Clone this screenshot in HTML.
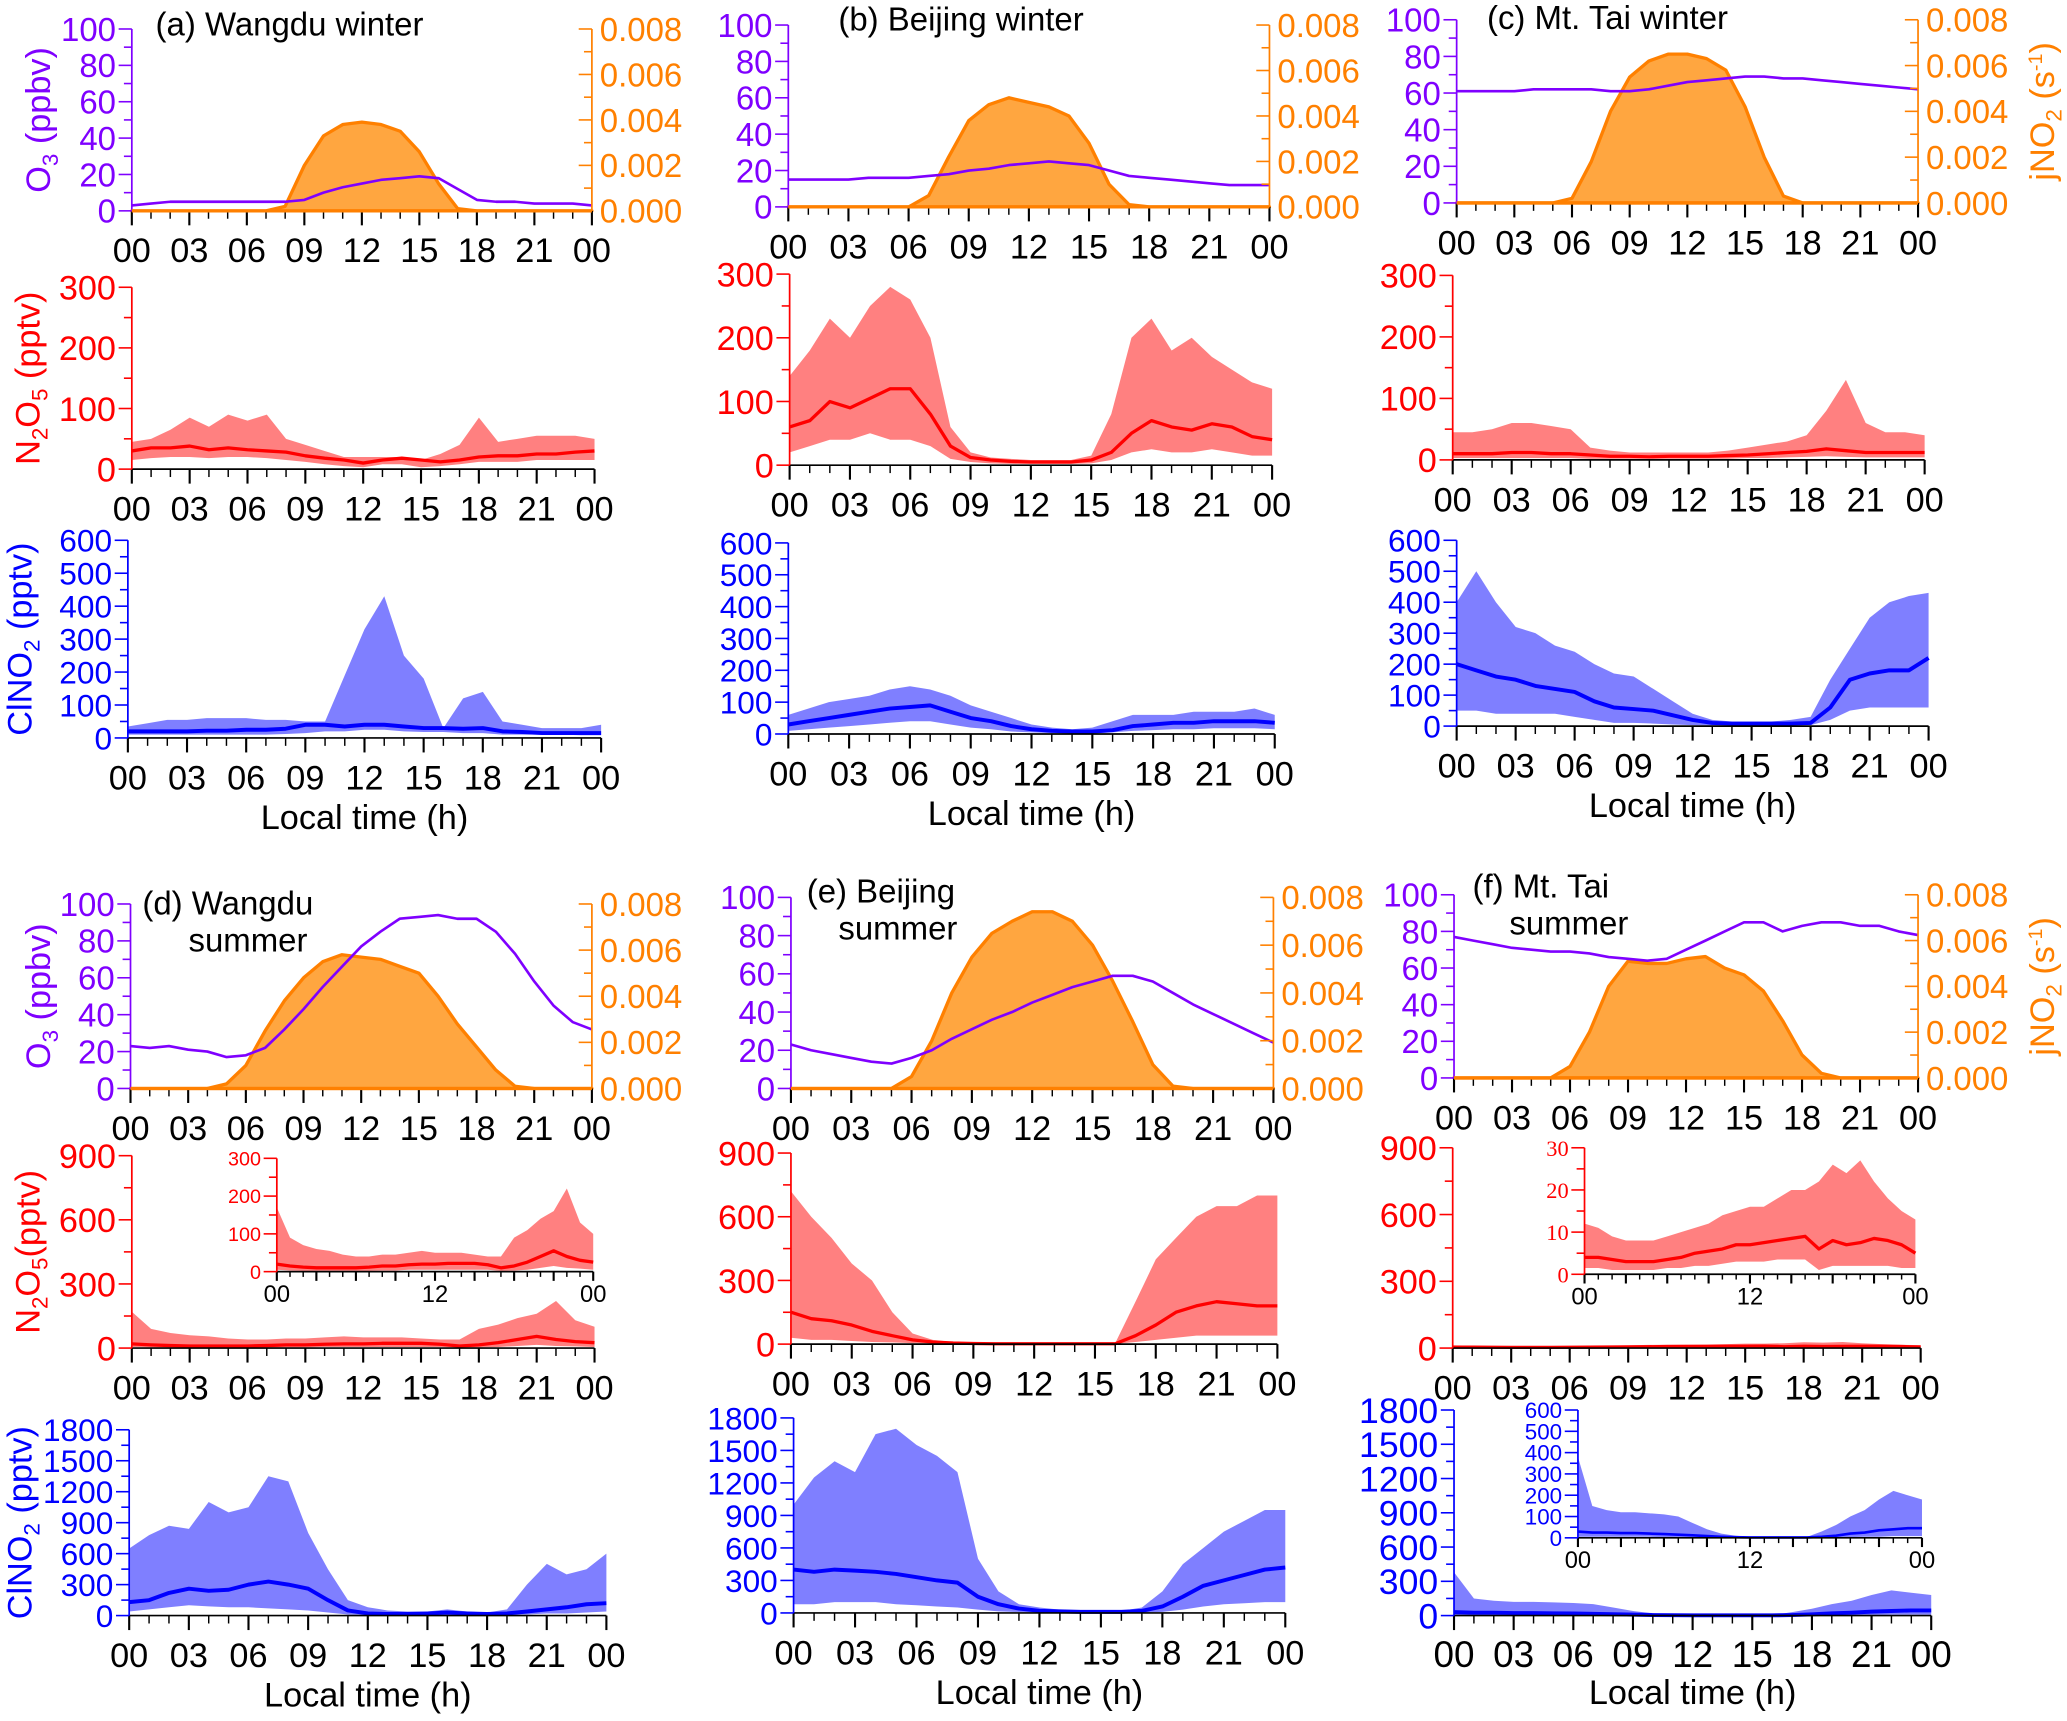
<!DOCTYPE html>
<html><head><meta charset="utf-8"><title>Diurnal profiles</title>
<style>
html,body{margin:0;padding:0;background:#fff;}
svg{display:block;font-family:"Liberation Sans",Arial,sans-serif;}
</style></head>
<body>
<svg id="fig" width="2067" height="1721" viewBox="0 0 1568 1306" preserveAspectRatio="none" xmlns="http://www.w3.org/2000/svg"></svg>
<script>
// ---------- DATA (hourly, 00..24 local time) ----------
const hours = [0,1,2,3,4,5,6,7,8,9,10,11,12,13,14,15,16,17,18,19,20,21,22,23,24];
const xTickLabels = ["00","03","06","09","12","15","18","21","00"];
const insetTickLabels = ["00","12","00"];

// (a) Wangdu winter
const a_o3 = [3,4,5,5,5,5,5,5,5,6,10,13,15,17,18,19,18,12,6,5,5,4,4,4,3];
const a_j = [0,0,0,0,0,0,0,0,0.2,2.0,3.3,3.8,3.9,3.8,3.5,2.6,1.2,0.1,0,0,0,0,0,0,0];
const a_n2o5_mean = [30,35,35,38,32,35,32,30,28,22,18,15,10,15,18,15,12,15,20,22,22,25,25,28,30];
const a_n2o5_hi = [45,50,65,85,70,90,80,90,50,40,30,20,20,20,20,15,25,40,85,45,50,55,55,55,50];
const a_n2o5_lo = [15,18,20,20,18,20,20,18,15,12,8,5,3,8,8,3,5,8,12,12,12,15,15,15,15];
const a_clno2_mean = [20,20,20,20,22,22,25,25,28,40,40,35,40,40,35,30,30,28,30,20,18,15,15,15,15];
const a_clno2_hi = [35,45,55,55,60,60,60,55,55,50,50,190,330,430,250,180,30,120,140,50,40,30,30,30,40];
const a_clno2_lo = [10,10,10,10,10,10,10,10,12,15,20,20,25,25,20,18,18,15,15,10,10,10,10,8,8];

// (b) Beijing winter
const b_o3 = [15,15,15,15,16,16,16,17,18,20,21,23,24,25,24,23,20,17,16,15,14,13,12,12,12];
const b_j = [0,0,0,0,0,0,0,0.5,2.2,3.8,4.5,4.8,4.6,4.4,4.0,2.8,1.0,0.1,0,0,0,0,0,0,0];
const b_n2o5_mean = [60,70,100,90,105,120,120,80,30,12,8,6,5,5,5,8,20,50,70,60,55,65,60,45,40];
const b_n2o5_hi = [140,180,230,200,250,280,260,200,60,20,12,10,8,8,8,15,80,200,230,180,200,170,150,130,120];
const b_n2o5_lo = [20,30,40,40,50,40,40,30,10,5,3,2,2,2,2,3,8,20,25,20,20,25,20,15,15];
const b_clno2_mean = [30,40,50,60,70,80,85,90,70,50,40,25,15,10,8,8,12,25,30,35,35,40,40,40,35];
const b_clno2_hi = [60,80,100,110,120,140,150,140,120,90,70,50,30,20,15,20,40,60,60,60,70,70,70,80,60];
const b_clno2_lo = [10,15,20,25,30,35,40,40,30,20,15,8,5,3,2,2,5,10,12,15,15,18,18,18,15];

// (c) Mt. Tai winter
const c_o3 = [61,61,61,61,62,62,62,62,61,61,62,64,66,67,68,69,69,68,68,67,66,65,64,63,62];
const c_j = [0,0,0,0,0,0,0.2,1.8,4.0,5.5,6.2,6.5,6.5,6.3,5.8,4.2,2.0,0.3,0,0,0,0,0,0,0];
const c_n2o5_mean = [10,10,10,12,12,10,10,8,6,6,5,6,6,6,7,8,10,12,14,18,15,12,12,12,12];
const c_n2o5_hi = [45,45,50,60,60,55,50,20,15,12,12,12,12,12,15,20,25,30,40,80,130,60,45,45,40];
const c_n2o5_lo = [3,3,3,3,3,3,3,2,2,2,2,2,2,2,2,3,3,4,5,6,5,4,4,4,4];
const c_clno2_mean = [200,180,160,150,130,120,110,80,60,55,50,35,20,10,8,8,8,8,10,60,150,170,180,180,220];
const c_clno2_hi = [400,500,400,320,300,260,240,200,170,160,120,80,40,20,15,15,15,20,30,150,250,350,400,420,430];
const c_clno2_lo = [50,50,40,40,40,40,30,20,10,10,8,5,3,2,2,2,2,2,3,20,50,60,60,60,60];

// (d) Wangdu summer
const d_o3 = [23,22,23,21,20,17,18,22,32,43,55,66,77,85,92,93,94,92,92,85,73,58,45,36,32];
const d_j = [0,0,0,0,0,0.2,1.0,2.5,3.8,4.8,5.5,5.8,5.7,5.6,5.3,5.0,4.0,2.8,1.8,0.8,0.1,0,0,0,0];
const d_n2o5_mean = [20,15,12,10,10,10,10,12,15,15,18,20,20,22,22,22,18,10,15,25,40,55,40,30,25];
const d_n2o5_hi = [170,90,70,60,55,45,40,40,45,45,50,55,50,50,50,45,40,40,90,110,140,160,220,130,100];
const d_n2o5_lo = [5,3,2,2,2,2,2,2,3,3,5,5,5,5,5,5,5,2,3,5,10,15,10,8,5];
const d_clno2_mean = [130,150,220,260,240,250,300,330,300,260,150,50,20,15,15,20,30,20,15,20,40,60,80,110,120];
const d_clno2_hi = [650,780,870,840,1100,1000,1050,1350,1300,800,450,150,80,50,40,40,60,40,30,60,300,500,400,450,600];
const d_clno2_lo = [40,60,80,100,90,80,80,70,60,50,30,10,5,3,3,3,5,3,3,5,10,20,20,30,40];

// (e) Beijing summer
const e_o3 = [23,20,18,16,14,13,16,20,26,31,36,40,45,49,53,56,59,59,56,50,44,39,34,29,24];
const e_j = [0,0,0,0,0,0,0.5,2.0,4.0,5.5,6.5,7.0,7.4,7.4,7.0,6.0,4.5,2.8,1.0,0.1,0,0,0,0,0];
const e_n2o5_mean = [150,120,110,90,60,40,20,10,5,3,2,2,2,2,2,2,2,40,90,150,180,200,190,180,180];
const e_n2o5_hi = [720,600,500,380,300,150,50,20,10,5,5,5,5,5,5,5,5,200,400,500,600,650,650,700,700];
const e_n2o5_lo = [30,20,20,15,10,8,5,3,2,1,1,1,1,1,1,1,1,10,20,30,40,40,40,40,40];
const e_clno2_mean = [400,380,400,390,380,360,330,300,280,150,80,40,20,15,10,10,10,20,60,150,250,300,350,400,420];
const e_clno2_hi = [1000,1250,1400,1300,1650,1700,1550,1450,1300,500,200,80,50,30,20,20,20,50,200,450,600,750,850,950,950];
const e_clno2_lo = [80,80,100,100,100,80,70,60,50,30,15,8,5,3,3,3,3,5,10,30,60,80,90,100,100];

// (f) Mt. Tai summer
const f_o3 = [77,75,73,71,70,69,69,68,66,65,64,65,70,75,80,85,85,80,83,85,85,83,83,80,78];
const f_j = [0,0,0,0,0,0,0.5,2.0,4.0,5.1,5.0,5.0,5.2,5.3,4.8,4.5,3.8,2.5,1.0,0.2,0,0,0,0,0];
const f_n2o5_mean = [4,4,3.5,3,3,3,3.5,4,5,5.5,6,7,7,7.5,8,8.5,9,6,8,7,7.5,8.5,8,7,5];
const f_n2o5_hi = [12,11,9,8,8,8,9,10,11,12,14,15,16,16,18,20,20,22,26,24,27,22,18,15,13];
const f_n2o5_lo = [1.5,1.5,1,1,1,1,1.5,1.5,2,2,2.5,3,3,3,3.5,3.5,3.5,1,2,2,2,2,2,1.5,1.5];
const f_clno2_mean = [30,25,25,22,22,20,18,15,12,8,5,3,2,2,2,2,2,5,10,20,25,35,40,45,45];
const f_clno2_hi = [380,150,130,120,120,115,110,100,70,40,20,10,5,3,3,3,5,30,60,100,130,180,220,200,180];
const f_clno2_lo = [5,5,5,5,5,5,3,3,2,1,1,0,0,0,0,0,0,1,2,3,5,5,8,8,8];

// ---------- LAYOUT ----------
const C = {o3:"#7f00ff", j:"#ff8000", jfill:"#ffa640", red:"#ff0000", redfill:"#ff8080", blue:"#0000ff", bluefill:"#7f7fff"};
const layout = [
 {id:"a", title:["(a) Wangdu winter"], tx:[118], ty:[27], ytitles:true, jtitle:false,
  o3:{x0:100,x1:449,yt:22,yb:160}, n:{x0:100,x1:451,yt:218,yb:356,max:300,step:100,minor:50},
  c:{x0:97,x1:456,yt:410,yb:560,max:600,step:100,minor:50},
  d:{o3:a_o3,j:a_j,nm:a_n2o5_mean,nh:a_n2o5_hi,nl:a_n2o5_lo,cm:a_clno2_mean,ch:a_clno2_hi,cl:a_clno2_lo}},
 {id:"b", title:["(b) Beijing winter"], tx:[636], ty:[23], ytitles:false, jtitle:false,
  o3:{x0:598,x1:963,yt:19,yb:157}, n:{x0:599,x1:965,yt:208,yb:353,max:300,step:100,minor:50},
  c:{x0:598,x1:967,yt:412,yb:557,max:600,step:100,minor:50},
  d:{o3:b_o3,j:b_j,nm:b_n2o5_mean,nh:b_n2o5_hi,nl:b_n2o5_lo,cm:b_clno2_mean,ch:b_clno2_hi,cl:b_clno2_lo}},
 {id:"c", title:["(c) Mt. Tai winter"], tx:[1128], ty:[22], ytitles:false, jtitle:true,
  o3:{x0:1105,x1:1455,yt:15,yb:154}, n:{x0:1102,x1:1460,yt:209,yb:349,max:300,step:100,minor:50},
  c:{x0:1105,x1:1463,yt:410,yb:551,max:600,step:100,minor:50},
  d:{o3:c_o3,j:c_j,nm:c_n2o5_mean,nh:c_n2o5_hi,nl:c_n2o5_lo,cm:c_clno2_mean,ch:c_clno2_hi,cl:c_clno2_lo}},
 {id:"d", title:["(d) Wangdu","summer"], tx:[108,143], ty:[694,722], ytitles:true, jtitle:false,
  o3:{x0:99,x1:449,yt:686,yb:826}, n:{x0:100,x1:451,yt:877,yb:1023,max:900,step:300,minor:150},
  c:{x0:98,x1:460,yt:1085,yb:1226,max:1800,step:300,minor:150},
  ni:{x0:210,x1:450,yt:879,yb:965,max:300,step:100,minor:50,fs:15,serif:false},
  d:{o3:d_o3,j:d_j,nm:d_n2o5_mean,nh:d_n2o5_hi,nl:d_n2o5_lo,cm:d_clno2_mean,ch:d_clno2_hi,cl:d_clno2_lo}},
 {id:"e", title:["(e) Beijing","summer"], tx:[612,636], ty:[685,713], ytitles:false, jtitle:false,
  o3:{x0:600,x1:966,yt:681,yb:826}, n:{x0:600,x1:969,yt:875,yb:1020,max:900,step:300,minor:150},
  c:{x0:602,x1:975,yt:1076,yb:1224,max:1800,step:300,minor:150},
  d:{o3:e_o3,j:e_j,nm:e_n2o5_mean,nh:e_n2o5_hi,nl:e_n2o5_lo,cm:e_clno2_mean,ch:e_clno2_hi,cl:e_clno2_lo}},
 {id:"f", title:["(f) Mt. Tai","summer"], tx:[1117,1145], ty:[681,709], ytitles:false, jtitle:true,
  o3:{x0:1103,x1:1455,yt:679,yb:818}, n:{x0:1102,x1:1457,yt:871,yb:1023,max:900,step:300,minor:150},
  c:{x0:1103,x1:1465,yt:1070,yb:1226,max:1800,step:300,minor:150},
  ni:{x0:1202,x1:1453,yt:871,yb:967,max:30,step:10,minor:5,fs:17,serif:true},
  ci:{x0:1197,x1:1458,yt:1070,yb:1167,max:600,step:100,minor:50,fs:17,serif:false},
  d:{o3:f_o3,j:f_j,nm:f_n2o5_mean,nh:f_n2o5_hi,nl:f_n2o5_lo,cm:f_clno2_mean,ch:f_clno2_hi,cl:f_clno2_lo}}
];

// ---------- RENDER ----------
const NS = "http://www.w3.org/2000/svg";
const svg = document.getElementById("fig");
function mk(tag, attrs, parent){const e=document.createElementNS(NS,tag);for(const k in attrs)e.setAttribute(k,attrs[k]);parent.appendChild(e);return e;}
function txt(str, attrs, parent, name){const e=mk("text",attrs,parent);e.textContent=str;
  
  
  return e;}
function xs(ax){return h=>ax.x0+(ax.x1-ax.x0)*h/24;}
function ys(ax,max){return v=>ax.yb-(ax.yb-ax.yt)*Math.min(Math.max(v,0),max)/max;}

function lineD(xf,yf,vals){return vals.map((v,i)=>(i?"L":"M")+xf(hours[i]).toFixed(1)+","+yf(v).toFixed(1)).join("");}
function bandD(xf,yf,hi,lo){let d=lineD(xf,yf,hi);for(let i=lo.length-1;i>=0;i--)d+="L"+xf(hours[i]).toFixed(1)+","+yf(lo[i]).toFixed(1);return d+"Z";}
function areaD(xf,yf,vals){return lineD(xf,yf,vals)+"L"+xf(24)+","+yf(0)+"L"+xf(0)+","+yf(0)+"Z";}

function xAxis(g, ax, labels, fs, inset){
  const xf=xs(ax);
  const l=mk("line",{x1:ax.x0,y1:ax.yb,x2:ax.x1,y2:ax.yb,stroke:"#000","stroke-width":1.3},g);
  
  
  for(let h=0;h<=24;h++){
    const major = h%3===0;
    const len = inset ? (major?7:4) : (major?11:6);
    mk("line",{x1:xf(h),y1:ax.yb,x2:xf(h),y2:ax.yb+len,stroke:"#000","stroke-width":major?1.6:1.1},g);
  }
  const step = 24/(labels.length-1);
  labels.forEach((s,i)=>{
    txt(s,{x:xf(i*step),y:ax.yb+(inset?23:39),"font-size":fs,"text-anchor":"middle",fill:"#000"},g,"x-tick-label");
  });
}
function yAxis(g, ax, max, step, minor, color, fs, fmt, right, serif){
  const yf=ys(ax,max);
  const x = right?ax.x1:ax.x0;
  const l=mk("line",{x1:x,y1:ax.yt,x2:x,y2:ax.yb,stroke:color,"stroke-width":1.3},g);
  
  
  for(let v=0; v<=max+1e-9; v+=minor){
    const major = Math.abs(v/step-Math.round(v/step))<1e-6;
    const len = major?10:6;
    mk("line",{x1:x-len,y1:yf(v),x2:x,y2:yf(v),stroke:color,"stroke-width":1.2},g);
    if(major){
      const attrs = right ? {x:x+6,y:yf(v)+fs*0.36,"font-size":fs,fill:color} : {x:x-12,y:yf(v)+fs*0.36,"font-size":fs,fill:color,"text-anchor":"end"};
      if(serif) attrs["font-family"]="Liberation Serif, serif";
      txt(fmt(v),attrs,g,right?"right-y-tick-label":"y-tick-label");
    }
  }
}
function band(g, xf, yf, hi, lo, fill, name){
  const p=mk("path",{d:bandD(xf,yf,hi,lo),fill:fill,stroke:"none"},g);
  
  
}
function line(g, xf, yf, vals, color, w, name){
  const p=mk("path",{d:lineD(xf,yf,vals),fill:"none",stroke:color,"stroke-width":w,"stroke-linejoin":"round"},g);
  
  
}

layout.forEach(P=>{
  const g=mk("g",{},svg);
  
  
  const D=P.d;
  // --- O3 / jNO2 ---
  {
    const ax=P.o3, xf=xs(ax), yo=ys(ax,100), yj=ys(ax,8);
    const a=mk("path",{d:areaD(xf,yj,D.j),fill:C.jfill,stroke:C.j,"stroke-width":2.5,"stroke-linejoin":"round"},g);
    
    
    line(g,xf,yo,D.o3,C.o3,2,"o3-line");
    xAxis(g,ax,xTickLabels,26,false);
    yAxis(g,ax,100,20,10,C.o3,25,v=>String(Math.round(v)),false,false);
    yAxis(g,ax,8,2,1,C.j,25,v=>(v/1000).toFixed(3),true,false);
    const ln=mk("line",{x1:ax.x0,y1:ax.yb,x2:ax.x1,y2:ax.yb,stroke:C.j,"stroke-width":2.5},g);
    
    
  }
  // --- N2O5 ---
  {
    const ax=P.n, xf=xs(ax), yf=ys(ax,ax.max);
    band(g,xf,yf,D.nh,D.nl,C.redfill,"n2o5-range");
    line(g,xf,yf,D.nm,C.red,2.5,"n2o5-mean-line");
    xAxis(g,ax,xTickLabels,26,false);
    yAxis(g,ax,ax.max,ax.step,ax.minor,C.red,26,v=>String(Math.round(v)),false,false);
    if(P.ni){
      const ia=P.ni, ixf=xs(ia), iyf=ys(ia,ia.max);
      const ig=mk("g",{},g);
      
      
      band(ig,ixf,iyf,D.nh,D.nl,C.redfill,"n2o5-inset-range");
      line(ig,ixf,iyf,D.nm,C.red,2.5,"n2o5-inset-mean-line");
      xAxis(ig,ia,insetTickLabels,18,true);
      yAxis(ig,ia,ia.max,ia.step,ia.minor,C.red,ia.fs,v=>String(Math.round(v)),false,ia.serif);
    }
  }
  // --- ClNO2 ---
  {
    const ax=P.c, xf=xs(ax), yf=ys(ax,ax.max);
    band(g,xf,yf,D.ch,D.cl,C.bluefill,"clno2-range");
    line(g,xf,yf,D.cm,C.blue,3,"clno2-mean-line");
    xAxis(g,ax,xTickLabels,P.id==="f"?28:26,false);
    yAxis(g,ax,ax.max,ax.step,ax.minor,C.blue,P.id==="f"?27:24,v=>String(Math.round(v)),false,false);
    txt("Local time (h)",{x:(ax.x0+ax.x1)/2,y:ax.yb+(P.id==="f"?67:69),"font-size":26,"text-anchor":"middle",fill:"#000"},g,"x-axis-title");
    if(P.ci){
      const ia=P.ci, ixf=xs(ia), iyf=ys(ia,ia.max);
      const ig=mk("g",{},g);
      
      
      band(ig,ixf,iyf,D.ch,D.cl,C.bluefill,"clno2-inset-range");
      line(ig,ixf,iyf,D.cm,C.blue,2,"clno2-inset-mean-line");
      xAxis(ig,ia,insetTickLabels,18,true);
      yAxis(ig,ia,ia.max,ia.step,ia.minor,C.blue,ia.fs,v=>String(Math.round(v)),false,false);
    }
  }
  // --- titles ---
  P.title.forEach((t,i)=>txt(t,{x:P.tx[i],y:P.ty[i],"font-size":25,fill:"#000"},g,"panel-title"));
  if(P.ytitles){
    const yc1=(P.o3.yt+P.o3.yb)/2, yc2=(P.n.yt+P.n.yb)/2, yc3=(P.c.yt+P.c.yb)/2;
    const t1=txt("",{transform:`translate(38,${yc1}) rotate(-90)`,"font-size":26,fill:C.o3,"text-anchor":"middle"},g,"o3-axis-title");
    t1.innerHTML='O<tspan font-size="17" dy="6">3</tspan><tspan dy="-6"> (ppbv)</tspan>';
    const t2=txt("",{transform:`translate(30,${yc2}) rotate(-90)`,"font-size":26,fill:C.red,"text-anchor":"middle"},g,"n2o5-axis-title");
    t2.innerHTML='N<tspan font-size="17" dy="6">2</tspan><tspan dy="-6">O</tspan><tspan font-size="17" dy="6">5</tspan><tspan dy="-6">'+(P.id==="d"?"(pptv)":" (pptv)")+'</tspan>';
    const t3=txt("",{transform:`translate(24,${yc3}) rotate(-90)`,"font-size":26,fill:C.blue,"text-anchor":"middle"},g,"clno2-axis-title");
    t3.innerHTML='ClNO<tspan font-size="17" dy="6">2</tspan><tspan dy="-6"> (pptv)</tspan>';
  }
  if(P.jtitle){
    const yc=(P.o3.yt+P.o3.yb)/2;
    const t=txt("",{transform:`translate(1558,${yc}) rotate(-90)`,"font-size":26,fill:C.j,"text-anchor":"middle"},g,"jno2-axis-title");
    t.innerHTML='jNO<tspan font-size="17" dy="6">2</tspan><tspan dy="-6"> (s</tspan><tspan font-size="15" dy="-9">-1</tspan><tspan dy="9">)</tspan>';
  }
});
</script>
</body></html>
